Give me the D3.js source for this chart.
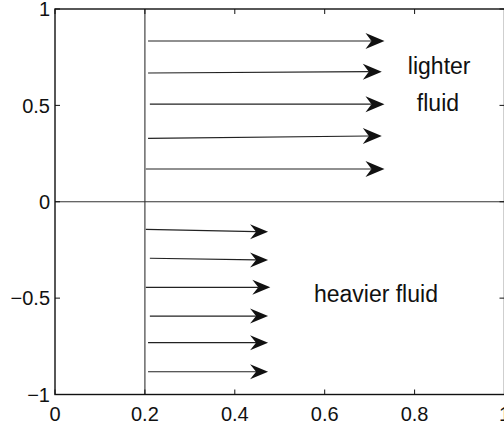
<!DOCTYPE html>
<html>
<head>
<meta charset="utf-8">
<script src="https://cdn.jsdelivr.net/npm/d3@7"></script>
<style>
  html, body { margin: 0; padding: 0; background: #fff; }
  svg { display: block; font-family: "Liberation Sans", Arial, Helvetica, sans-serif; }
</style>
</head>
<body>
<div id="chart"></div>
<script>
// tick values
const xTicks = [0, 0.2, 0.4, 0.6, 0.8, 1]
const yTicks = [-1, -0.5, 0, 0.5, 1]

// interface position
const interfaceX = 0.2

// upper (lighter fluid) velocity arrows
const upperStart = [0.207, 0.207, 0.211, 0.207, 0.202]
const upperEnd = [0.733, 0.727, 0.733, 0.727, 0.733]
const upperY0 = [0.834, 0.668, 0.506, 0.329, 0.170]
const upperY1 = [0.834, 0.675, 0.506, 0.341, 0.170]

// lower (heavier fluid) velocity arrows
const lowerStart = [0.202, 0.211, 0.202, 0.211, 0.207, 0.207]
const lowerEnd = [0.474, 0.474, 0.479, 0.474, 0.474, 0.474]
const lowerY0 = [-0.143, -0.293, -0.444, -0.593, -0.731, -0.882]
const lowerY1 = [-0.155, -0.302, -0.444, -0.593, -0.731, -0.882]

// annotations (text, data x of left edge, data y of baseline)
const noteText = ["lighter", "fluid", "heavier fluid"]
const noteX = [0.785, 0.805, 0.576]
const noteY = [0.663, 0.471, -0.520]

const width = 504, height = 427
const margin = { top: 9, right: -0.5, bottom: 32.5, left: 55 }

const x = d3.scaleLinear().domain([0, 1]).range([margin.left, width - margin.right])
const y = d3.scaleLinear().domain([-1, 1]).range([height - margin.bottom, margin.top])

const svg = d3.select('#chart').append('svg')
    .attr('width', width)
    .attr('height', height)

const tickLen = 5
const fmt = v => (v < 0 ? '\u2212' : '') + Math.abs(v)

// interface line and zero line
svg.append('line')
    .attr('x1', x(interfaceX)).attr('x2', x(interfaceX))
    .attr('y1', y(1)).attr('y2', y(-1))
    .attr('stroke', '#444').attr('stroke-width', 1.2)

svg.append('line')
    .attr('x1', x(0)).attr('x2', x(1))
    .attr('y1', y(0)).attr('y2', y(0))
    .attr('stroke', '#333').attr('stroke-width', 1)

// arrows
function arrows(start, end, y0, y1, L, W, notch) {
    const data = start.map((s, i) => ({ s, e: end[i], y0: y0[i], y1: y1[i] }))
    const g = svg.append('g')
    g.selectAll('line')
        .data(data)
        .join('line')
        .attr('x1', d => x(d.s))
        .attr('y1', d => y(d.y0))
        .attr('x2', d => x(d.e) - L + notch)
        .attr('y2', d => y(d.y1))
        .attr('stroke', '#222')
        .attr('stroke-width', 1.2)
    g.selectAll('path')
        .data(data)
        .join('path')
        .attr('d', d => {
            const tx = x(d.e), ty = y(d.y1)
            return `M${tx},${ty}L${tx - L},${ty - W}L${tx - L + notch},${ty}L${tx - L},${ty + W}Z`
        })
        .attr('fill', '#111')
}
arrows(upperStart, upperEnd, upperY0, upperY1, 19, 8, 6)
arrows(lowerStart, lowerEnd, lowerY0, lowerY1, 18, 7.5, 6)

// annotations
svg.append('g').selectAll('text')
    .data(noteText)
    .join('text')
    .attr('x', (d, i) => x(noteX[i]))
    .attr('y', (d, i) => y(noteY[i]))
    .attr('font-size', 23)
    .attr('fill', '#111')
    .text(d => d)

// axes box
const axisG = svg.append('g')
axisG.append('rect')
    .attr('x', x(0)).attr('y', y(1))
    .attr('width', x(1) - x(0)).attr('height', y(-1) - y(1))
    .attr('fill', 'none').attr('stroke', '#111').attr('stroke-width', 1.4)

// inward ticks on all four sides
axisG.selectAll('.xt-b').data(xTicks).join('line')
    .attr('x1', d => x(d)).attr('x2', d => x(d))
    .attr('y1', y(-1)).attr('y2', y(-1) - tickLen)
    .attr('stroke', '#111')
axisG.selectAll('.xt-t').data(xTicks).join('line')
    .attr('x1', d => x(d)).attr('x2', d => x(d))
    .attr('y1', y(1)).attr('y2', y(1) + tickLen)
    .attr('stroke', '#111')
axisG.selectAll('.yt-l').data(yTicks).join('line')
    .attr('x1', x(0)).attr('x2', x(0) + tickLen)
    .attr('y1', d => y(d)).attr('y2', d => y(d))
    .attr('stroke', '#111')
axisG.selectAll('.yt-r').data(yTicks).join('line')
    .attr('x1', x(1)).attr('x2', x(1) - tickLen)
    .attr('y1', d => y(d)).attr('y2', d => y(d))
    .attr('stroke', '#111')

// tick labels
svg.append('g').selectAll('text').data(xTicks).join('text')
    .attr('x', d => x(d))
    .attr('y', y(-1) + 26.5)
    .attr('text-anchor', 'middle')
    .attr('font-size', 20)
    .attr('fill', '#111')
    .text(fmt)

svg.append('g').selectAll('text').data(yTicks).join('text')
    .attr('x', x(0) - 5)
    .attr('y', d => y(d))
    .attr('dy', '0.36em')
    .attr('text-anchor', 'end')
    .attr('font-size', 20)
    .attr('fill', '#111')
    .text(fmt)
</script>
</body>
</html>
